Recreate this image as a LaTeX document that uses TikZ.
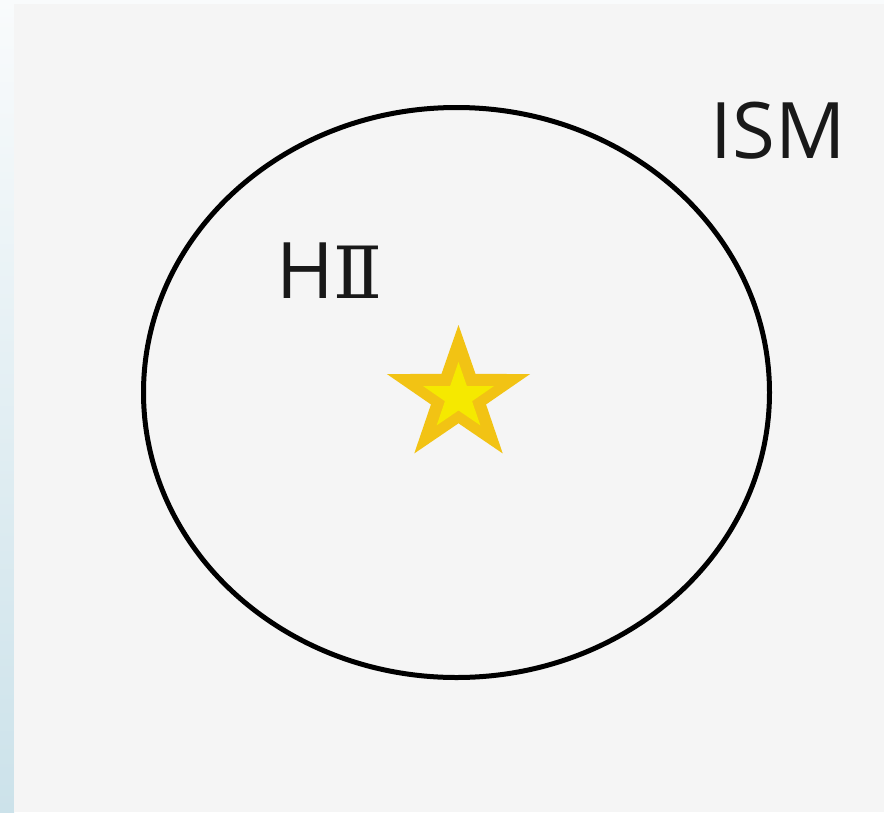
\documentclass[tikz,border=0pt]{standalone}
\usepackage{fontspec}
\setmainfont{Open Sans}
\newfontfamily\numfont{DejaVu Serif}
\usetikzlibrary{shapes.geometric}
\definecolor{panel}{HTML}{F5F5F5}
\definecolor{stripTop}{HTML}{F9FBFC}
\definecolor{stripBot}{HTML}{CCE2EA}
\definecolor{starOut}{HTML}{F2C314}
\definecolor{starIn}{HTML}{F5E900}
\tikzset{
  lbl/.style={font=\fontsize{78}{80}\selectfont, text=black!90, inner sep=0pt},
  starshape/.style={star, star points=5, star point ratio=2.6, inner sep=0pt, draw=none, xscale=1.06},
}
\begin{document}
\begin{tikzpicture}[x=1pt,y=-1pt]
\useasboundingbox (0,0) rectangle (884,812);
\shade[top color=stripTop, bottom color=stripBot] (0,0) rectangle (14,812);
\fill[stripTop] (0,0) rectangle (884,4);
\fill[panel] (14,4) rectangle (884,812);
\draw[line width=5pt] (456.5,392.5) ellipse [x radius=313, y radius=285];
\node[starshape, fill=starOut, minimum size=142pt] (outerstar) at (458.5,396) {};
\node[starshape, fill=starIn, minimum size=70pt] (innerstar) at (458.5,397) {};
\node[lbl, anchor=base] (ism) at (778,158) {ISM};
\node[lbl, anchor=base west] (hii) at (276,298) {H{\numfont\fontsize{72}{74}\selectfont Ⅱ}};
\end{tikzpicture}
\end{document}
